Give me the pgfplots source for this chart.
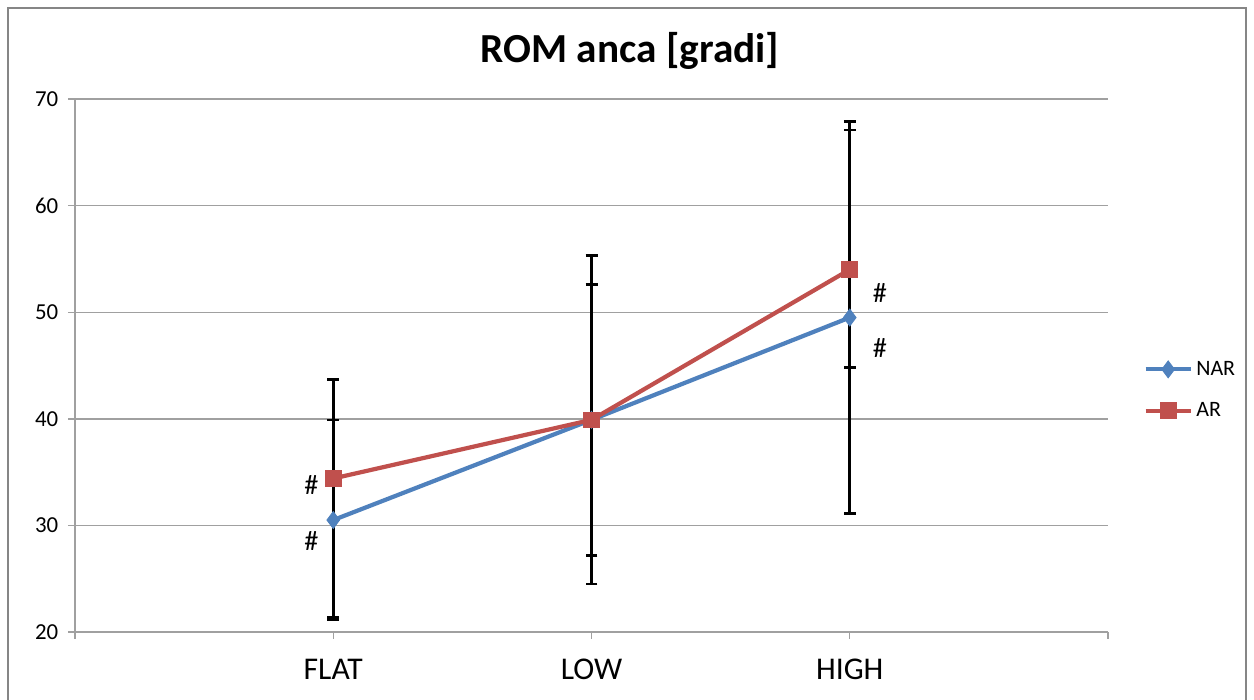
\documentclass[border=0pt]{standalone}
\usepackage{fontspec}
\setmainfont{Carlito}
\usepackage{pgfplots}
\pgfplotsset{compat=1.18}
\definecolor{narblue}{RGB}{79,129,189}
\definecolor{arred}{RGB}{192,80,77}
\definecolor{gridgray}{RGB}{160,160,160}
\begin{document}
\begin{tikzpicture}
% 1 px of the reference = 0.02 cm
\path[use as bounding box] (-1.5,-1.36) rectangle (23.58,12.64);
\draw[color={rgb,255:red,134;green,134;blue,134}, line width=1.1pt]
    (-1.34,-1.5) -- (-1.34,12.48) -- (23.42,12.48) -- (23.42,-1.5);
\node[font=\bfseries\fontsize{23.5}{28}\selectfont] at (11.1,11.62) {ROM anca [gradi]};
\begin{axis}[
    scale only axis,
    width=20.66cm, height=10.66cm,
    xmin=0, xmax=4, ymin=20, ymax=70,
    xtick={0,1,2,3,4},
    xticklabels={,FLAT,LOW,HIGH,},
    ytick={20,30,40,50,60,70},
    axis x line*=bottom, axis y line*=left,
    axis line style={gridgray, line width=0.8pt, -},
    tick style={gridgray, line width=0.8pt},
    major tick length=0.14cm,
    tick align=outside,
    ymajorgrids, grid style={gridgray, line width=0.8pt},
    /pgf/number format/assume math mode=true,
    yticklabel style={font=\fontsize{13}{15}\selectfont, xshift=-2pt},
    xticklabel style={font=\fontsize{18}{21}\selectfont, yshift=-8pt},
    legend style={at={(rel axis cs:1.029,0.454)}, anchor=west, draw=none,
        fill=none, font=\fontsize{12.5}{15}\selectfont, row sep=10pt,
        /tikz/every even column/.append style={column sep=1pt}},
    legend cell align=left,
    legend image code/.code={
        \draw[#1, mark repeat=2, mark phase=2] plot coordinates {(0cm,0cm) (0.45cm,0cm) (0.9cm,0cm)};
    },
    clip=false,
]
\addplot[color=narblue, line width=2.4pt, mark=diamond*, mark size=4.8pt,
    mark options={fill=narblue, draw=narblue, line width=0.5pt},
    error bars/.cd, y dir=both, y explicit,
    error bar style={black, line width=1.5pt},
    error mark options={black, rotate=90, mark size=0.12cm, line width=1.5pt}]
    coordinates {
    (1,30.5) += (0,9.4) -= (0,9.3)
    (2,39.9) += (0,12.7) -= (0,12.7)
    (3,49.5) += (0,18.4) -= (0,18.4)
};
\addlegendentry{NAR}
\addplot[color=arred, line width=2.4pt, mark=square*, mark size=4.5pt,
    mark options={fill=arred, draw=arred, line width=0.5pt},
    error bars/.cd, y dir=both, y explicit,
    error bar style={black, line width=1.5pt},
    error mark options={black, rotate=90, mark size=0.12cm, line width=1.5pt}]
    coordinates {
    (1,34.4) += (0,9.3) -= (0,13.0)
    (2,39.9) += (0,15.4) -= (0,15.4)
    (3,54.0) += (0,13.1) -= (0,9.2)
};
\addlegendentry{AR}
\node[font=\fontsize{16}{18}\selectfont] at (axis cs:0.915,33.8) {\#};
\node[font=\fontsize{16}{18}\selectfont] at (axis cs:0.915,28.5) {\#};
\node[font=\fontsize{16}{18}\selectfont] at (axis cs:3.117,51.8) {\#};
\node[font=\fontsize{16}{18}\selectfont] at (axis cs:3.117,46.6) {\#};
\end{axis}
\end{tikzpicture}
\end{document}
